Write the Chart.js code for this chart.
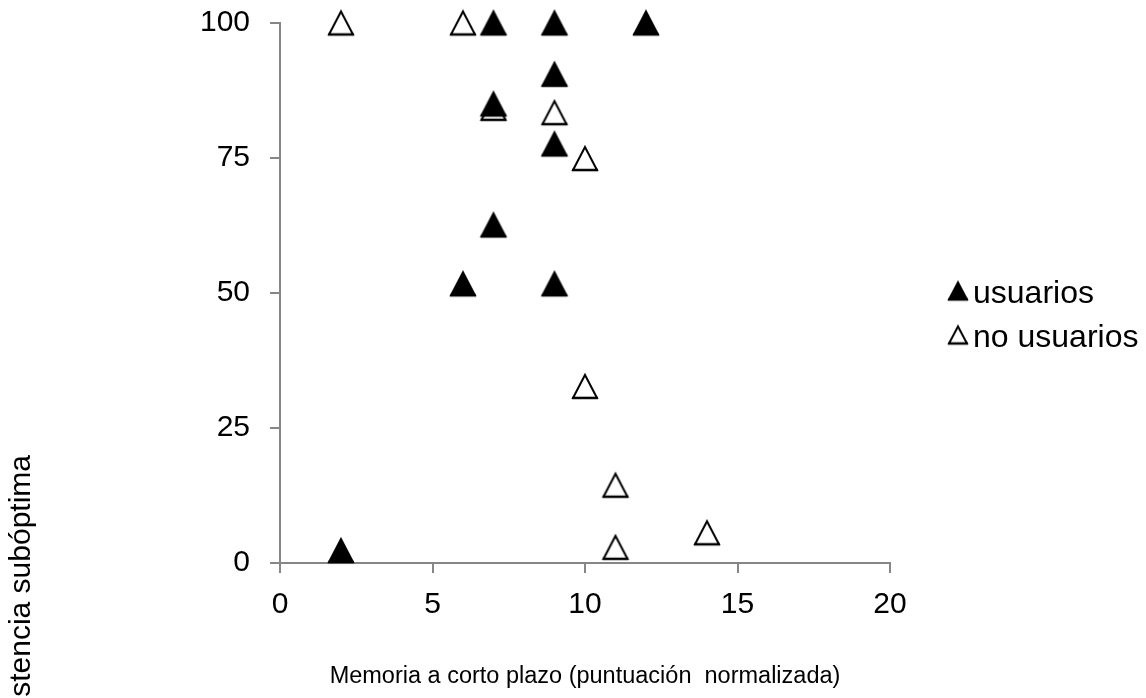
<!DOCTYPE html>
<html>
<head>
<meta charset="utf-8">
<script src="https://cdn.jsdelivr.net/npm/chart.js@4.4.1/dist/chart.umd.min.js"></script>
<style>
  html, body { margin: 0; padding: 0; background: #ffffff; }
  #wrap { width: 1146px; height: 698px; }
</style>
</head>
<body>
<div id="wrap"><canvas id="chart" width="1146" height="698"></canvas></div>
<script>
// Series: short-term memory score (x) vs. suboptimal persistence (y)
const usuariosX = [2, 6, 7, 7, 7, 9, 9, 9, 9, 12];
const usuariosY = [2.3, 51.7, 100, 85, 62.6, 100, 90.5, 77.6, 51.7, 100];
const noUsuariosX = [2, 6, 7, 9, 10, 10, 11, 11, 14];
const noUsuariosY = [100, 100, 84.2, 83.4, 74.9, 32.7, 14.4, 2.9, 5.6];

const seriesNames = ['usuarios', 'no usuarios'];
const xTickValues = [0, 5, 10, 15, 20];
const yTickValues = [0, 25, 50, 75, 100];
const xTitle = 'Memoria a corto plazo (puntuación  normalizada)';
const yTitle = 'Persistencia subóptima';

const FONT = '"Liberation Sans", Arial, sans-serif';
const TICK_SIZE = 30;
const XTITLE_SIZE = 23.5;
const YTITLE_SIZE = 30;
const LEGEND_SIZE = 32;
const AXIS_GREY = '#868686';

// Triangle marker drawn on its own canvas: apex up, flat base
function triangleMarker(w, h, filled) {
  const pad = 4;
  const c = document.createElement('canvas');
  c.width = Math.ceil(w + pad * 2);
  c.height = Math.ceil(h + pad * 2);
  const g = c.getContext('2d');
  const cx = c.width / 2, cy = c.height / 2;
  g.beginPath();
  g.moveTo(cx, cy - h / 2);
  g.lineTo(cx + w / 2, cy + h / 2);
  g.lineTo(cx - w / 2, cy + h / 2);
  g.closePath();
  g.fillStyle = filled ? '#000000' : '#ffffff';
  g.fill();
  g.lineWidth = 2;
  g.strokeStyle = '#000000';
  g.stroke();
  // slightly heavier base line
  g.beginPath();
  g.moveTo(cx - w / 2 - 1, cy + h / 2);
  g.lineTo(cx + w / 2 + 1, cy + h / 2);
  g.lineWidth = 2.5;
  g.stroke();
  return c;
}

const filledMarker = triangleMarker(24, 23, true);
const openMarker = triangleMarker(24, 23, false);
const filledLegend = triangleMarker(18, 17, true);
const openLegend = triangleMarker(18, 17, false);

const toPoints = (xs, ys) => xs.map((x, i) => ({ x: x, y: ys[i] }));

// Legend on the right and rotated y title drawn after the chart
const extrasPlugin = {
  id: 'extras',
  afterDraw(chart) {
    const ctx = chart.ctx;
    ctx.save();
    ctx.fillStyle = '#000000';
    ctx.font = LEGEND_SIZE + 'px ' + FONT;
    ctx.textBaseline = 'middle';
    ctx.textAlign = 'left';
    const markers = [filledLegend, openLegend];
    const rows = [292, 336];
    seriesNames.forEach((name, i) => {
      const m = markers[i];
      ctx.drawImage(m, 958 - m.width / 2, rows[i] - 1 - m.height / 2);
      ctx.fillText(name, 973, rows[i] + 2);
    });
    // y title; its start runs past the bottom edge
    ctx.font = YTITLE_SIZE + 'px ' + FONT;
    ctx.translate(22, 455);
    ctx.rotate(-Math.PI / 2);
    ctx.textAlign = 'right';
    ctx.textBaseline = 'middle';
    ctx.fillText(yTitle, 0, 0);
    ctx.restore();
  }
};

new Chart(document.getElementById('chart'), {
  type: 'scatter',
  data: {
    datasets: [
      {
        label: seriesNames[0],
        data: toPoints(usuariosX, usuariosY),
        pointStyle: filledMarker,
        pointRadius: 12,
        pointHoverRadius: 12,
        clip: false
      },
      {
        label: seriesNames[1],
        data: toPoints(noUsuariosX, noUsuariosY),
        pointStyle: openMarker,
        pointRadius: 12,
        pointHoverRadius: 12,
        clip: false
      }
    ]
  },
  options: {
    responsive: false,
    animation: false,
    devicePixelRatio: 1,
    layout: { padding: { top: 23, right: 256, bottom: 0, left: 0 } },
    plugins: {
      legend: { display: false },
      tooltip: { enabled: false }
    },
    scales: {
      x: {
        type: 'linear',
        min: 0,
        max: 20,
        afterBuildTicks: (s) => { s.ticks = xTickValues.map(v => ({ value: v })); },
        afterFit: (s) => { s.height = 135; s.paddingLeft = 0; s.paddingRight = 0; },
        border: { color: AXIS_GREY, width: 2 },
        grid: { drawOnChartArea: false, drawTicks: true, tickLength: 10, color: AXIS_GREY, lineWidth: 2 },
        ticks: { color: '#000000', padding: 14, font: { family: FONT, size: TICK_SIZE } },
        title: {
          display: true,
          text: xTitle,
          color: '#000000',
          font: { family: FONT, size: XTITLE_SIZE },
          padding: { top: 0, bottom: 7 }
        }
      },
      y: {
        type: 'linear',
        min: 0,
        max: 100,
        afterBuildTicks: (s) => { s.ticks = yTickValues.map(v => ({ value: v })); },
        afterFit: (s) => { s.width = 280; s.paddingTop = 0; s.paddingBottom = 0; },
        border: { color: AXIS_GREY, width: 2 },
        grid: { drawOnChartArea: false, drawTicks: true, tickLength: 10, color: AXIS_GREY, lineWidth: 2 },
        ticks: { color: '#000000', padding: 20, font: { family: FONT, size: TICK_SIZE } }
      }
    }
  },
  plugins: [extrasPlugin]
});
</script>
</body>
</html>
